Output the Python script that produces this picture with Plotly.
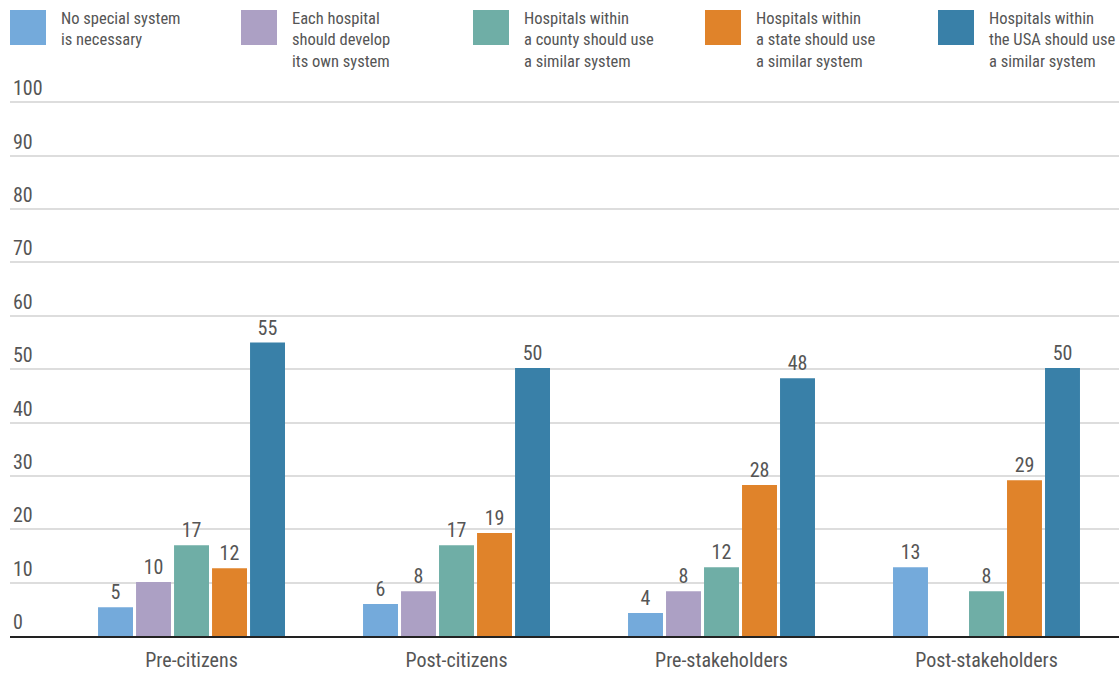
import plotly.graph_objects as go

categories = ["Pre-citizens", "Post-citizens", "Pre-stakeholders", "Post-stakeholders"]
series_names = [
    "No special system<br>is necessary",
    "Each hospital<br>should develop<br>its own system",
    "Hospitals within<br>a county should use<br>a similar system",
    "Hospitals within<br>a state should use<br>a similar system",
    "Hospitals within<br>the USA should use<br>a similar system",
]
no_special = [5.4, 6.0, 4.3, 12.9]
each_hospital = [10.1, 8.4, 8.4, None]
county = [17.0, 17.0, 12.9, 8.4]
state = [12.7, 19.3, 28.3, 29.2]
usa = [55.0, 50.2, 48.3, 50.2]
labels_no_special = ["5", "6", "4", "13"]
labels_each_hospital = ["10", "8", "8", ""]
labels_county = ["17", "17", "12", "8"]
labels_state = ["12", "19", "28", "29"]
labels_usa = ["55", "50", "48", "50"]
y_ticks = [0, 10, 20, 30, 40, 50, 60, 70, 80, 90, 100]

colors = ["#74AADB", "#ACA0C4", "#6FAEA6", "#E0832A", "#3980A8"]
FONT = "Roboto Condensed, DejaVu Sans Condensed, Liberation Sans Narrow, DejaVu Sans, sans-serif"
GREY = "#555555"

def f(size):
    return dict(family=FONT, size=size, color=GREY)

values = [no_special, each_hospital, county, state, usa]
labels = [labels_no_special, labels_each_hospital, labels_county, labels_state, labels_usa]

fig = go.Figure()
for name, vals, labs, col in zip(series_names, values, labels, colors):
    fig.add_trace(go.Bar(
        x=categories, y=vals, name=name.replace("<br>", " "),
        marker=dict(color=col, line=dict(width=0)),
        text=labs, textposition="outside", cliponaxis=False,
        textfont=f(20),
    ))

W, H = 1119, 673
ml, mr, mt, mb = 10, 0, 49, 37
pw, ph = W - ml - mr, H - mt - mb
legend_x = [10, 241, 473, 705, 938]
shapes = []
annotations = []
for lx, name, col in zip(legend_x, series_names, colors):
    x0 = (lx - ml) / pw
    x1 = (lx + 36 - ml) / pw
    y0 = 1 + (mt - 45) / ph
    y1 = 1 + (mt - 10) / ph
    shapes.append(dict(type="rect", xref="paper", yref="paper", x0=x0, x1=x1, y0=y0, y1=y1,
                       fillcolor=col, line=dict(width=0)))
    annotations.append(dict(xref="paper", yref="paper", x=(lx + 49 - ml) / pw, y=1 + (mt - 7) / ph,
                            xanchor="left", yanchor="top", align="left", showarrow=False,
                            text=name, font=f(16.5)))

fig.update_layout(
    width=W, height=H,
    margin=dict(l=ml, r=mr, t=mt, b=mb),
    paper_bgcolor="white", plot_bgcolor="white",
    barmode="group", bargap=0.283, bargroupgap=0.08,
    showlegend=False,
    shapes=shapes, annotations=annotations,
    font=f(18),
    xaxis=dict(
        range=[-0.685, 3.5], showgrid=False, showline=True, linecolor="#222222", linewidth=1.5,
        ticks="", tickfont=f(20), ticklabelstandoff=5,
    ),
    yaxis=dict(
        range=[0, 110], tickvals=y_ticks, ticktext=[str(v) for v in y_ticks],
        showgrid=True, gridcolor="#dddddd", gridwidth=1.5, zeroline=False, showline=False,
        ticks="", ticklabelposition="inside top", tickfont=f(20),
    ),
)

post = (
    "document.body.style.margin='0';"
    "var s=document.createElement('style');"
    "s.textContent='text{font-stretch:condensed !important;}';"
    "document.head.appendChild(s);"
)
fig.write_html("out.html", post_script=post, config={"displayModeBar": False})
